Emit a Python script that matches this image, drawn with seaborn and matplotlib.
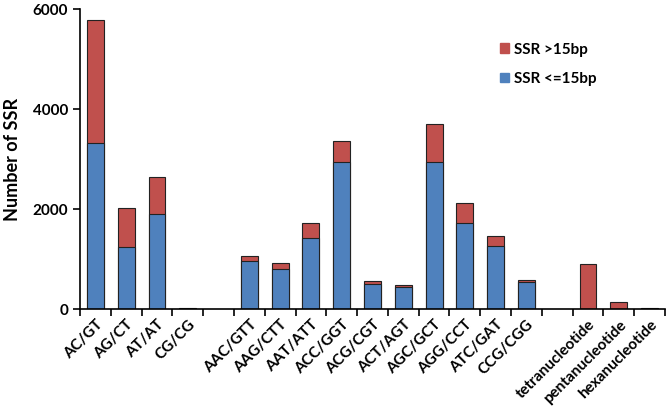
import numpy as np
import pandas as pd
import matplotlib
matplotlib.use("Agg")
import matplotlib.pyplot as plt
import seaborn as sns
from matplotlib.patches import Patch

# slot order, "gap" entries are empty slots between motif groups
slots = ["AC/GT", "AG/CT", "AT/AT", "CG/CG", "gap1",
         "AAC/GTT", "AAG/CTT", "AAT/ATT", "ACC/GGT", "ACG/CGT",
         "ACT/AGT", "AGC/GCT", "AGG/CCT", "ATC/GAT", "CCG/CGG", "gap2",
         "tetranucleotide", "pentanucleotide", "hexanucleotide"]
motifs = ["AC/GT", "AG/CT", "AT/AT", "CG/CG",
          "AAC/GTT", "AAG/CTT", "AAT/ATT", "ACC/GGT", "ACG/CGT",
          "ACT/AGT", "AGC/GCT", "AGG/CCT", "ATC/GAT", "CCG/CGG",
          "tetranucleotide", "pentanucleotide", "hexanucleotide"]
short_ssr = [3330, 1240, 1900, 15,
             960, 815, 1430, 2950, 515,
             440, 2940, 1720, 1275, 545,
             0, 0, 0]
long_ssr = [2450, 780, 740, 5,
            105, 105, 290, 420, 50,
            45, 765, 405, 185, 35,
            900, 145, 20]

df = pd.DataFrame({"motif": motifs, "short": short_ssr, "long": long_ssr})
df["total"] = df["short"] + df["long"]

red = "#C0504D"
blue = "#4F81BD"

plt.rcParams["font.family"] = ["Lato", "DejaVu Sans"]
plt.rcParams["font.weight"] = "bold"

fig = plt.figure(figsize=(6.7, 4.15), dpi=100)
ax = fig.add_axes([0.1194, 0.2547, 0.8731, 0.7229])

sns.barplot(data=df, x="motif", y="total", order=slots, color=red,
            saturation=1, width=0.55, edgecolor="#222222", linewidth=0.8, ax=ax)
sns.barplot(data=df, x="motif", y="short", order=slots, color=blue,
            saturation=1, width=0.55, edgecolor="#222222", linewidth=0.8, ax=ax)

ax.set_xlim(-0.5, len(slots) - 0.5)
ax.set_ylim(0, 6000)
ax.set_yticks([0, 2000, 4000, 6000])
ax.tick_params(axis="y", labelsize=11, direction="out", length=5, width=1.2)

# ticks at slot boundaries, labels at slot centres
ax.set_xticks(np.arange(len(slots) + 1) - 0.5)
ax.set_xticklabels([])
ax.tick_params(axis="x", which="major", direction="out", length=5, width=1.2)
ax.set_xticks(np.arange(len(slots)), minor=True)
ax.set_xticklabels([s if not s.startswith("gap") else "" for s in slots],
                   minor=True, rotation=45, ha="right", rotation_mode="anchor",
                   fontsize=11, fontweight="bold")
ax.tick_params(axis="x", which="minor", length=0, pad=6)

ax.set_xlabel("")
ax.set_ylabel("Number of SSR", fontsize=13, fontweight="bold", labelpad=8)

for side in ["top", "right"]:
    ax.spines[side].set_visible(False)
for side in ["left", "bottom"]:
    ax.spines[side].set_linewidth(1.2)
    ax.spines[side].set_color("black")

handles = [Patch(facecolor=red, edgecolor=red), Patch(facecolor=blue, edgecolor=blue)]
ax.legend(handles, ["SSR >15bp", "SSR <=15bp"], loc="upper left",
          bbox_to_anchor=(0.695, 0.935), frameon=False, fontsize=11,
          handlelength=0.6, handleheight=0.6, handletextpad=0.3, labelspacing=1.0)

fig.savefig("out.png", dpi=100)
